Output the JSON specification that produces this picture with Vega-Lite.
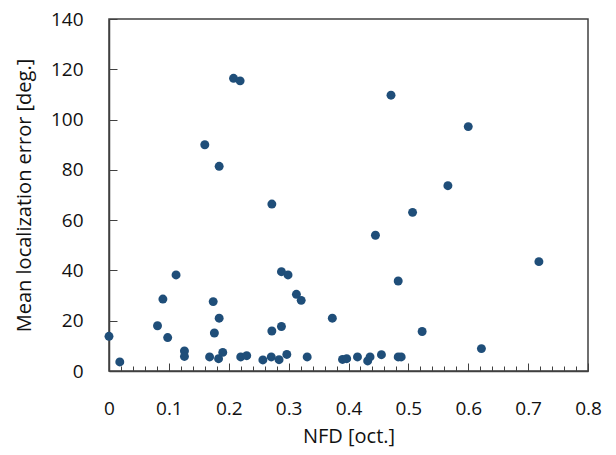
{
  "$schema": "https://vega.github.io/schema/vega-lite/v6.json",
  "width": 479,
  "height": 352,
  "autosize": {"type": "none"},
  "padding": {"left": 109, "top": 19, "right": 28, "bottom": 84},
  "config": {
    "view": {"stroke": "#404040", "strokeWidth": 1.5},
    "font": "Open Sans",
    "axis": {"grid": false, "domainColor": "#404040", "tickColor": "#404040", "labelColor": "#111", "titleColor": "#111", "labelFont": "Open Sans", "titleFont": "Open Sans", "labelFontSize": 19, "titleFontSize": 20, "titleFontWeight": "normal", "domainWidth": 1.5, "labelFlush": false, "labelOverlap": false}
  },
  "data": {"values": [
    {"nfd": 0.208, "err": 116.4}, {"nfd": 0.219, "err": 115.4}, {"nfd": 0.160, "err": 90.0}, {"nfd": 0.184, "err": 81.4},
    {"nfd": 0.471, "err": 109.7}, {"nfd": 0.600, "err": 97.2}, {"nfd": 0.566, "err": 73.7}, {"nfd": 0.507, "err": 63.1},
    {"nfd": 0.445, "err": 54.0}, {"nfd": 0.718, "err": 43.5}, {"nfd": 0.483, "err": 35.8}, {"nfd": 0.523, "err": 15.7},
    {"nfd": 0.622, "err": 8.9}, {"nfd": 0.390, "err": 4.6}, {"nfd": 0.397, "err": 4.9}, {"nfd": 0.415, "err": 5.6},
    {"nfd": 0.432, "err": 4.0}, {"nfd": 0.436, "err": 5.6}, {"nfd": 0.455, "err": 6.5}, {"nfd": 0.483, "err": 5.6},
    {"nfd": 0.488, "err": 5.6}, {"nfd": 0.000, "err": 13.8}, {"nfd": 0.018, "err": 3.6}, {"nfd": 0.081, "err": 18.0},
    {"nfd": 0.090, "err": 28.6}, {"nfd": 0.098, "err": 13.3}, {"nfd": 0.112, "err": 38.2}, {"nfd": 0.126, "err": 8.0},
    {"nfd": 0.126, "err": 5.8}, {"nfd": 0.168, "err": 5.6}, {"nfd": 0.174, "err": 27.6}, {"nfd": 0.176, "err": 15.1},
    {"nfd": 0.184, "err": 21.0}, {"nfd": 0.183, "err": 4.9}, {"nfd": 0.190, "err": 7.4}, {"nfd": 0.220, "err": 5.6},
    {"nfd": 0.230, "err": 6.1}, {"nfd": 0.257, "err": 4.4}, {"nfd": 0.272, "err": 66.4}, {"nfd": 0.271, "err": 5.6},
    {"nfd": 0.272, "err": 15.9}, {"nfd": 0.288, "err": 39.5}, {"nfd": 0.299, "err": 38.2}, {"nfd": 0.288, "err": 17.7},
    {"nfd": 0.284, "err": 4.5}, {"nfd": 0.297, "err": 6.6}, {"nfd": 0.313, "err": 30.5}, {"nfd": 0.321, "err": 28.1},
    {"nfd": 0.331, "err": 5.6}, {"nfd": 0.373, "err": 21.0}
  ]},
  "resolve": {"axis": {"x": "independent"}},
  "layer": [
    {
      "mark": {"type": "point", "filled": true, "opacity": 1, "color": "#1F4E79", "size": 80},
      "encoding": {
        "x": {"field": "nfd", "type": "quantitative", "scale": {"domain": [0, 0.8], "nice": false},
          "axis": {"title": "NFD [oct.]", "values": [0, 0.1, 0.2, 0.3, 0.4, 0.5, 0.6, 0.7, 0.8], "format": "~g", "tickSize": -8, "labelPadding": 36, "titlePadding": 8, "orient": "bottom"}},
        "y": {"field": "err", "type": "quantitative", "scale": {"domain": [0, 140], "nice": false},
          "axis": {"title": "Mean localization error  [deg.]", "values": [0, 20, 40, 60, 80, 100, 120, 140], "tickSize": -8, "labelPadding": 34, "titlePadding": 16}}
      }
    },
    {
      "mark": {"type": "point", "opacity": 0},
      "encoding": {
        "x": {"field": "nfd", "type": "quantitative", "scale": {"domain": [0, 0.8], "nice": false},
          "axis": {"title": null, "orient": "bottom", "labels": false, "domain": false, "tickSize": -5, "values": [0.02,0.04,0.06,0.08,0.12,0.14,0.16,0.18,0.22,0.24,0.26,0.28,0.32,0.34,0.36,0.38,0.42,0.44,0.46,0.48,0.52,0.54,0.56,0.58,0.62,0.64,0.66,0.68,0.72,0.74,0.76,0.78]}},
        "y": {"field": "err", "type": "quantitative"}
      }
    }
  ]
}
